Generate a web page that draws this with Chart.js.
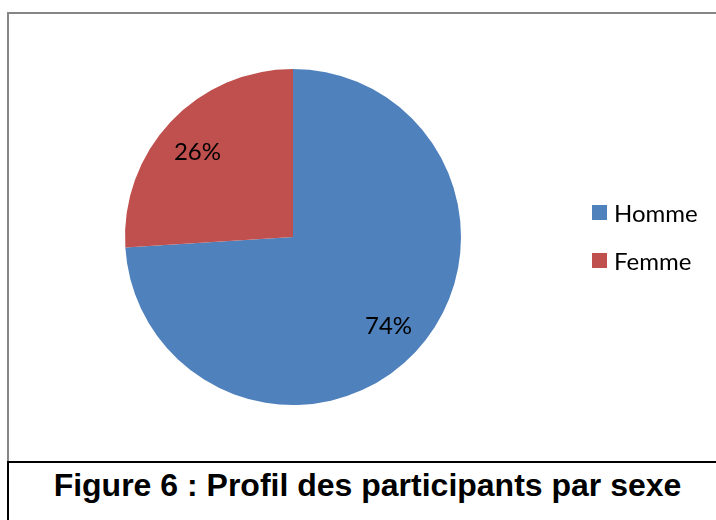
<!DOCTYPE html>
<html>
<head>
<meta charset="utf-8">
<script src="https://cdn.jsdelivr.net/npm/chart.js@4/dist/chart.umd.min.js"></script>
<style>
  html, body { margin:0; padding:0; width:716px; height:520px; overflow:hidden; background:#fff; }
  #box { position:absolute; left:7px; top:12px; width:760px; height:450px; border-top:2px solid #868686; border-left:2px solid #868686; box-sizing:border-box; }
  #cap { position:absolute; left:7px; top:461px; width:760px; height:80px; border-top:2px solid #000; border-left:2px solid #000; box-sizing:border-box; }
  #capText { position:absolute; left:0; top:467px; width:735px; text-align:center; font-family:"Liberation Sans", Arial, sans-serif; font-weight:bold; font-size:32px; color:#000; white-space:nowrap; }
  #chartWrap { position:absolute; left:0; top:0; width:716px; height:462px; }
  .leg { position:absolute; left:592px; font-family:Lato, "Open Sans", sans-serif; font-size:24px; color:#000; line-height:26px; }
  .leg span.sw { position:absolute; left:0; top:5px; width:15px; height:15px; }
  .leg span.tx { position:absolute; left:22px; top:0; white-space:nowrap; }
</style>
</head>
<body>
<div id="box"></div>
<div id="cap"></div>
<div id="capText">Figure 6 : Profil des participants par sexe</div>
<div id="chartWrap"><canvas id="c" width="716" height="462"></canvas></div>
<div id="legend"></div>
<script>
const categories = ["Homme", "Femme"];
const values = [74, 26];
const colors = ["#4F81BD", "#C0504D"];

// HTML legend
const legend = document.getElementById('legend');
categories.forEach((name, i) => {
  const d = document.createElement('div');
  d.className = 'leg';
  d.style.top = (200 + i * 48) + 'px';
  d.innerHTML = '<span class="sw" style="background:' + colors[i] + '"></span><span class="tx">' + name + '</span>';
  legend.appendChild(d);
});

const labelPlugin = {
  id: 'pctLabels',
  afterDatasetsDraw(chart) {
    const ctx = chart.ctx;
    const meta = chart.getDatasetMeta(0);
    const data = chart.data.datasets[0].data;
    const total = data.reduce((a, b) => a + b, 0);
    ctx.save();
    ctx.font = '24px Lato, "Open Sans", sans-serif';
    ctx.fillStyle = '#000';
    ctx.textAlign = 'center';
    ctx.textBaseline = 'middle';
    meta.data.forEach((arc, i) => {
      const p = arc.getProps(['x', 'y', 'startAngle', 'endAngle', 'outerRadius'], true);
      const mid = (p.startAngle + p.endAngle) / 2;
      const r = p.outerRadius * 0.78;
      const pct = Math.round(data[i] / total * 100) + '%';
      ctx.fillText(pct, p.x + Math.cos(mid) * r, p.y + Math.sin(mid) * r + (i === 1 ? 5 : 0));
    });
    ctx.restore();
  }
};

new Chart(document.getElementById('c'), {
  type: 'pie',
  data: {
    labels: categories,
    datasets: [{
      data: values,
      backgroundColor: colors,
      borderWidth: 0
    }]
  },
  options: {
    responsive: false,
    animation: false,
    layout: { padding: { left: 125, right: 255, top: 69, bottom: 57 } },
    plugins: {
      legend: { display: false },
      tooltip: { enabled: false }
    }
  },
  plugins: [labelPlugin]
});
</script>
</body>
</html>
